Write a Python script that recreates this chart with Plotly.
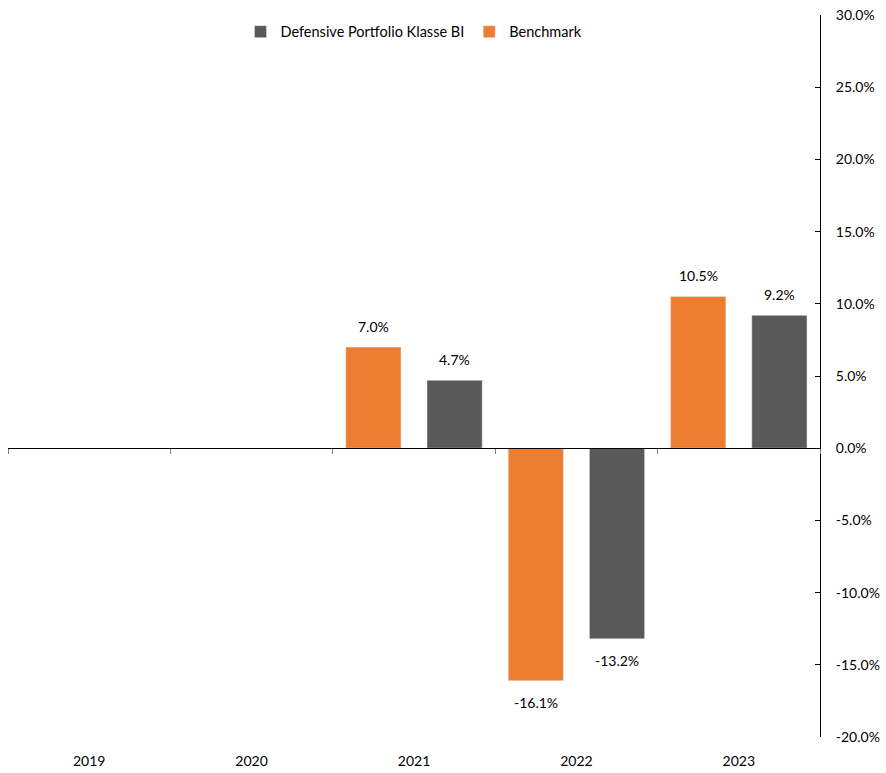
import plotly.graph_objects as go

years = ["2019", "2020", "2021", "2022", "2023"]
benchmark = [None, None, 7.0, -16.1, 10.5]
defensive = [None, None, 4.7, -13.2, 9.2]
y_ticks = [-20, -15, -10, -5, 0, 5, 10, 15, 20, 25, 30]

FONT = "Lato, Carlito, Calibri, sans-serif"
ORANGE = "#ED7D31"
GREY = "#595959"

fig = go.Figure()
fig.add_trace(go.Bar(x=years, y=benchmark, name="Benchmark", marker_color=ORANGE))
fig.add_trace(go.Bar(x=years, y=defensive, name="Defensive Portfolio Klasse BI",
                     marker_color=GREY))
# invisible trace to carry the zero-line category axis
fig.add_trace(go.Scatter(x=years, y=[0] * len(years), xaxis="x2", mode="none",
                         showlegend=False, hoverinfo="skip"))

# data labels (offset to the grouped bar positions); x given as category index
for series, dx in ((benchmark, -40.6), (defensive, 40.6)):
    for i, v in enumerate(series):
        if v is None:
            continue
        fig.add_annotation(x=i, y=v, xref="x", yref="y", text=f"{v:.1f}%",
                           showarrow=False, xshift=dx,
                           yshift=21 if v >= 0 else -22,
                           font=dict(size=14, color="#000000", family=FONT))

fig.update_layout(
    width=886, height=773,
    margin=dict(l=8, r=66, t=15, b=36),
    paper_bgcolor="white", plot_bgcolor="white",
    font=dict(family=FONT, size=14, color="#000000"),
    barmode="group", bargap=0.0, bargroupgap=0.32,
    showlegend=True,
    legend=dict(orientation="h", x=0.5, xanchor="center", y=0.999, yanchor="top",
                traceorder="reversed", font=dict(size=14.5, family=FONT),
                itemwidth=30, bgcolor="rgba(0,0,0,0)", tracegroupgap=0),
    xaxis=dict(type="category", categoryorder="array", categoryarray=years,
               range=[-0.5, 4.5],
               showline=False, ticks="", showgrid=False, zeroline=False,
               automargin=False, ticklabelstandoff=14, tickfont=dict(size=14)),
    xaxis2=dict(type="category", categoryorder="array", categoryarray=years,
                overlaying="x", matches="x", anchor="free", position=0.4,
                showline=True, linecolor="#000000", linewidth=1,
                ticks="outside", tickson="boundaries", ticklen=5, tickcolor="#7f7f7f",
                showticklabels=False, showgrid=False, zeroline=False, automargin=False),
    yaxis=dict(side="right", range=[-20, 30], tickvals=y_ticks,
               ticktext=[f"{v:.1f}%" for v in y_ticks],
               showline=True, linecolor="#000000", linewidth=1,
               ticks="inside", ticklen=5, tickcolor="#000000",
               showgrid=False, zeroline=False, automargin=False,
               ticklabeloverflow="allow",
               ticklabelstandoff=12, tickfont=dict(size=14)),
)

fig.write_html("out.html",
               config={"displayModeBar": False},
               post_script="document.body.style.margin='0';")
